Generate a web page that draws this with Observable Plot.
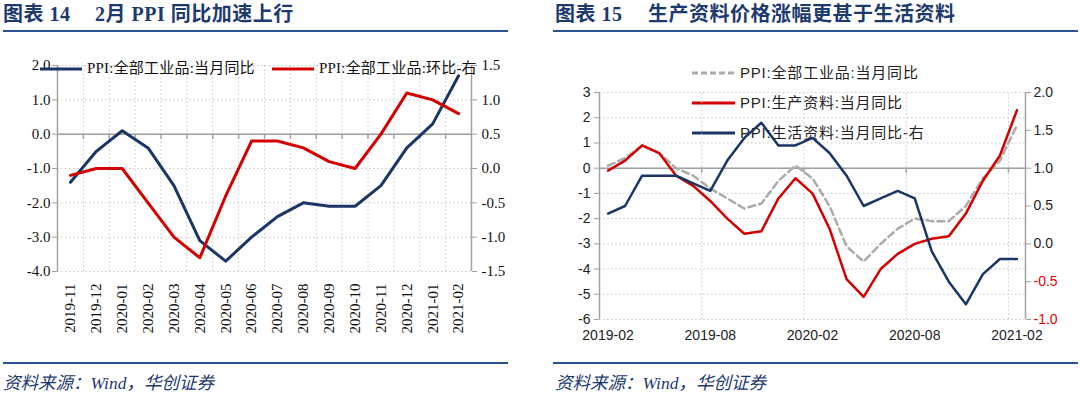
<!DOCTYPE html>
<html><head><meta charset="utf-8">
<script src="https://cdn.jsdelivr.net/npm/d3@7"></script>
<script src="https://cdn.jsdelivr.net/npm/@observablehq/plot@0.6"></script>
<style>
html,body{margin:0;padding:0;background:#fff;}
body{width:1080px;height:394px;position:relative;overflow:hidden;}
.abs{position:absolute;}
.title{font-family:"Liberation Serif","Noto Sans CJK SC",serif;font-weight:bold;font-size:20px;color:#1d3a6e;white-space:pre;line-height:1;letter-spacing:0.5px;}
.rule{height:2px;background:#2b5190;}
.src{font-family:"Liberation Serif","Noto Sans CJK SC",serif;font-style:italic;font-size:17.5px;color:#1d3a6e;white-space:pre;line-height:1;}
.leg{white-space:nowrap;line-height:1;display:flex;align-items:center;}
.leg svg{margin-right:5px;}
</style></head><body>
<div class="abs title" style="left:3px;top:4px;">图表 14</div>
<div class="abs title" style="left:95px;top:4px;">2月 PPI 同比加速上行</div>
<div class="abs rule" style="left:3px;top:30px;width:505px;"></div>
<div class="abs title" style="left:555px;top:4px;">图表 15</div>
<div class="abs title" style="left:648px;top:4px;">生产资料价格涨幅更甚于生活资料</div>
<div class="abs rule" style="left:553px;top:30px;width:525px;"></div>
<div id="legR"></div>
<div id="chartL" class="abs" style="left:0;top:40px;"></div>
<div id="chartR" class="abs" style="left:540px;top:40px;"></div>
<div id="legL"></div>
<div class="abs rule" style="left:3px;top:362px;width:505px;"></div>
<div class="abs rule" style="left:553px;top:362px;width:525px;"></div>
<div class="abs src" style="left:3px;top:375px;">资料来源：Wind，华创证券</div>
<div class="abs src" style="left:555px;top:375px;">资料来源：Wind，华创证券</div>
<script>
// ---------- data: left chart ----------
const leftMonths = ["2019-11","2019-12","2020-01","2020-02","2020-03","2020-04","2020-05","2020-06",
  "2020-07","2020-08","2020-09","2020-10","2020-11","2020-12","2021-01","2021-02"];
const ppiYoY = [-1.4,-0.5,0.1,-0.4,-1.5,-3.1,-3.7,-3.0,-2.4,-2.0,-2.1,-2.1,-1.5,-0.4,0.3,1.7];
const ppiMoM = [-0.1,0.0,0.0,-0.5,-1.0,-1.3,-0.4,0.4,0.4,0.3,0.1,0.0,0.5,1.1,1.0,0.8];
const leftNames = ["PPI:全部工业品:当月同比","PPI:全部工业品:环比-右"];
const leftTicks = [-4,-3,-2,-1,0,1,2];
const leftRightTicks = [-1.5,-1.0,-0.5,0.0,0.5,1.0,1.5];

// ---------- data: right chart ----------
const rightMonths = ["2019-02","2019-03","2019-04","2019-05","2019-06","2019-07","2019-08","2019-09",
  "2019-10","2019-11","2019-12","2020-01","2020-02","2020-03","2020-04","2020-05","2020-06","2020-07",
  "2020-08","2020-09","2020-10","2020-11","2020-12","2021-01","2021-02"];
const ppiAll = [0.1,0.4,0.9,0.6,0.0,-0.3,-0.8,-1.2,-1.6,-1.4,-0.5,0.1,-0.4,-1.5,-3.1,-3.7,-3.0,-2.4,-2.0,-2.1,-2.1,-1.5,-0.4,0.3,1.7];
const ppiProducer = [-0.1,0.3,0.9,0.6,-0.3,-0.7,-1.3,-2.0,-2.6,-2.5,-1.2,-0.4,-1.0,-2.4,-4.4,-5.1,-4.0,-3.4,-3.0,-2.8,-2.7,-1.8,-0.5,0.5,2.3];
const ppiConsumer = [0.4,0.5,0.9,0.9,0.9,0.8,0.7,1.1,1.4,1.6,1.3,1.3,1.4,1.2,0.9,0.5,0.6,0.7,0.6,-0.1,-0.5,-0.8,-0.4,-0.2,-0.2];
const rightNames = ["PPI:全部工业品:当月同比","PPI:生产资料:当月同比","PPI:生活资料:当月同比-右"];
const rightTicks = [-6,-5,-4,-3,-2,-1,0,1,2,3];
const rightRightTicks = [-1.0,-0.5,0.0,0.5,1.0,1.5,2.0];

const NAVY = "#1b3564", RED = "#d40000", GRAY = "#ababab", AXIS = "#a0a0a0";
const grid = {stroke:"#c8c8c8", strokeOpacity:1, strokeDasharray:"1.5,2.5", strokeWidth:1};

// ---------- left chart ----------
{
  const n = leftMonths.length;
  const rows = leftMonths.map((m,i)=>({i, yoy: ppiYoY[i], mom: ppiMoM[i]}));
  const toL = r => (r - 0.5) * 2, fromL = v => v / 2 + 0.5;
  const bounds = d3.range(0.5, n - 1, 1);
  const yd = [leftTicks[0], leftTicks[leftTicks.length-1]];
  const chart = Plot.plot({
    width: 540, height: 310, marginLeft: 57, marginRight: 69, marginTop: 25, marginBottom: 79,
    style: {background: "transparent", fontFamily: '"Liberation Serif","Noto Sans CJK SC",serif', fontSize: "15px", color: "#111"},
    x: {type: "linear", domain: [-0.5, n - 0.5]},
    y: {domain: yd},
    marks: [
      Plot.gridY(leftTicks, grid),
      Plot.ruleX(bounds, {y1: yd[0], y2: yd[1], ...grid}),
      Plot.ruleY([0], {stroke: AXIS, strokeWidth: 1.5}),
      Plot.ruleX(bounds, {y1: 0, y2: 0, insetBottom: -5, stroke: AXIS, strokeWidth: 1.5}),
      Plot.ruleX([-0.5, n - 0.5], {y1: yd[0], y2: yd[1], stroke: AXIS, strokeWidth: 1.5}),
      Plot.axisY(leftTicks, {anchor: "left", tickSize: 5, tickPadding: 2, stroke: AXIS, tickFormat: d => d.toFixed(1), label: null}),
      Plot.axisY(leftRightTicks.map(toL), {anchor: "right", tickSize: 5, tickPadding: 5, stroke: AXIS, tickFormat: v => fromL(v).toFixed(1), label: null}),
      Plot.axisX(d3.range(n), {anchor: "bottom", tickSize: 0, tickPadding: 12, tickRotate: -90, tickFormat: i => leftMonths[i], label: null}),
      Plot.line(rows, {x: "i", y: "yoy", stroke: NAVY, strokeWidth: 3}),
      Plot.line(rows, {x: "i", y: d => toL(d.mom), stroke: RED, strokeWidth: 3})
    ]
  });
  document.getElementById("chartL").append(chart);
}

// ---------- right chart ----------
{
  const n = rightMonths.length;
  const rows = rightMonths.map((m,i)=>({i, all: ppiAll[i], prod: ppiProducer[i], cons: ppiConsumer[i]}));
  const toR = r => (r - 1) * 3, fromR = v => v / 3 + 1;
  const bounds = d3.range(5.5, n - 1, 6);
  const labelIdx = d3.range(0, n, 6);
  const yd = [rightTicks[0], rightTicks[rightTicks.length-1]];
  const chart = Plot.plot({
    width: 540, height: 310, marginLeft: 59, marginRight: 55, marginTop: 52, marginBottom: 31,
    style: {background: "transparent", fontFamily: '"Liberation Sans","Noto Sans CJK SC",sans-serif', fontSize: "14px", color: "#222"},
    x: {type: "linear", domain: [-0.5, n - 0.5]},
    y: {domain: yd},
    marks: [
      Plot.gridY(rightTicks, grid),
      Plot.ruleX(bounds, {y1: yd[0], y2: yd[1], ...grid}),
      Plot.ruleY([0], {stroke: AXIS, strokeWidth: 1.5}),
      Plot.ruleX(bounds, {y1: 0, y2: 0, insetBottom: -5, stroke: AXIS, strokeWidth: 1.5}),
      Plot.ruleX([-0.5, n - 0.5], {y1: yd[0], y2: yd[1], stroke: AXIS, strokeWidth: 1.5}),
      Plot.axisY(rightTicks, {anchor: "left", tickSize: 5, tickPadding: 4, stroke: AXIS, tickFormat: d => String(d), label: null}),
      Plot.axisY(rightRightTicks.filter(r => r >= 0).map(toR), {anchor: "right", tickSize: 5, tickPadding: 3, stroke: AXIS, tickFormat: v => fromR(v).toFixed(1), label: null}),
      Plot.axisY(rightRightTicks.filter(r => r < 0).map(toR), {anchor: "right", tickSize: 5, tickPadding: 3, stroke: AXIS, fill: "#e00000", tickFormat: v => fromR(v).toFixed(1), label: null}),
      Plot.axisX(labelIdx, {anchor: "bottom", tickSize: 0, tickPadding: 11, tickFormat: i => rightMonths[i], label: null}),
      Plot.line(rows, {x: "i", y: "all", stroke: GRAY, strokeWidth: 2.5, strokeDasharray: "7,4"}),
      Plot.line(rows, {x: "i", y: "prod", stroke: RED, strokeWidth: 2.5}),
      Plot.line(rows, {x: "i", y: d => toR(d.cons), stroke: NAVY, strokeWidth: 2.5})
    ]
  });
  document.getElementById("chartR").append(chart);
}

// ---------- legends ----------
function sample(color, dash, w, sw) {
  return `<svg width="${w}" height="8"><line x1="0" x2="${w}" y1="4" y2="4" stroke="${color}" stroke-width="${sw}" ${dash ? `stroke-dasharray="${dash}"` : ""}/></svg>`;
}
{
  const el = document.getElementById("legL");
  const items = [
    {name: leftNames[0], color: NAVY, left: 40},
    {name: leftNames[1], color: RED, left: 272}
  ];
  el.innerHTML = items.map(it =>
    `<div class="abs leg" style="left:${it.left}px;top:61px;font-family:'Liberation Serif','Noto Sans CJK SC',serif;font-size:15px;letter-spacing:0.2px;color:#111;">${sample(it.color, null, 42, 3)}<span>${it.name}</span></div>`
  ).join("");
}
{
  const el = document.getElementById("legR");
  const items = [
    {name: rightNames[0], color: GRAY, dash: "6,3", top: 65},
    {name: rightNames[1], color: RED, dash: null, top: 95},
    {name: rightNames[2], color: NAVY, dash: null, top: 125}
  ];
  el.innerHTML = items.map(it =>
    `<div class="abs leg" style="left:692px;top:${it.top}px;font-family:'Liberation Sans','Noto Sans CJK SC',sans-serif;font-size:15px;letter-spacing:0.8px;color:#222;">${sample(it.color, it.dash, 43, 3)}<span>${it.name}</span></div>`
  ).join("");
}
</script>
</body></html>
